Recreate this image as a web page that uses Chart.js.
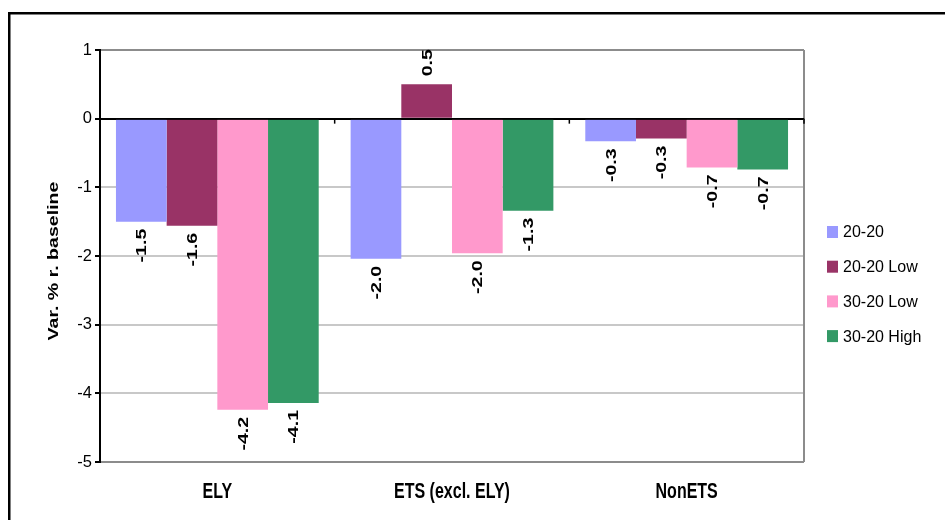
<!DOCTYPE html>
<html><head><meta charset="utf-8">
<script src="https://cdn.jsdelivr.net/npm/chart.js@4"></script>
<style>html,body{margin:0;padding:0;background:#fff;}#wrap{width:945px;height:520px;position:relative;}</style>
</head><body><div id="wrap"><canvas id="c" width="945" height="520"></canvas></div>
<script>
const categories = ['ELY', 'ETS (excl. ELY)', 'NonETS'];
const seriesNames = ['20-20', '20-20 Low', '30-20 Low', '30-20 High'];
const s2020 = [-1.50, -2.04, -0.33];
const s2020Low = [-1.56, 0.50, -0.29];
const s3020Low = [-4.24, -1.96, -0.71];
const s3020High = [-4.14, -1.34, -0.74];
const yTicks = [1, 0, -1, -2, -3, -4, -5];
const colors = ['#9999FF', '#993366', '#FF99CC', '#339966'];
const yTitle = 'Var. % r. baseline';

const FONT = '"Liberation Sans", Arial, sans-serif';
const seriesData = [s2020, s2020Low, s3020Low, s3020High];

function line(ctx, x1, y1, x2, y2) { ctx.beginPath(); ctx.moveTo(x1, y1); ctx.lineTo(x2, y2); ctx.stroke(); }

const decor = {
  id: 'decor',
  beforeDraw(chart) {
    const ctx = chart.ctx;
    ctx.save(); ctx.fillStyle = '#fff'; ctx.fillRect(0, 0, chart.width, chart.height); ctx.restore();
  },
  afterDatasetsDraw(chart) {
    const { ctx, chartArea: a, scales: { x, y } } = chart;
    ctx.save();
    ctx.strokeStyle = '#8c8c8c'; ctx.lineWidth = 2;
    line(ctx, a.right, a.top, a.right, a.bottom);
    const y0 = y.getPixelForValue(0);
    ctx.strokeStyle = '#000'; ctx.lineWidth = 1.5;
    line(ctx, a.left, y0, a.right, y0);
    for (let i = 0; i <= categories.length; i++) {
      const px = x.getPixelForValue(i - 0.5);
      line(ctx, px, y0, px, y0 + 5);
    }
    chart.data.datasets.forEach((ds, di) => {
      const meta = chart.getDatasetMeta(di);
      meta.data.forEach((bar, i) => {
        const v = ds.data[i];
        ctx.save();
        ctx.translate(bar.x, v < 0 ? bar.y + 7 : bar.y - 8);
        ctx.rotate(-Math.PI / 2);
        ctx.scale(1.35, 1);
        ctx.font = 'bold 14.5px ' + FONT;
        ctx.textAlign = v < 0 ? 'right' : 'left';
        ctx.textBaseline = 'alphabetic';
        ctx.fillStyle = '#000';
        ctx.fillText(v.toFixed(1), 0, 5);
        ctx.restore();
      });
    });
    ctx.restore();
  },
  afterDraw(chart) {
    const { ctx, chartArea: a, scales: { x } } = chart;
    ctx.save();
    ctx.fillStyle = '#000';
    categories.forEach((c, i) => {
      ctx.save();
      ctx.translate(x.getPixelForValue(i), 498);
      ctx.scale(1, 1.35);
      ctx.font = 'bold 16px ' + FONT;
      ctx.textAlign = 'center';
      ctx.textBaseline = 'alphabetic';
      ctx.fillText(c, 0, 0);
      ctx.restore();
    });
    ctx.save();
    ctx.translate(58, (a.top + a.bottom) / 2 + 5);
    ctx.rotate(-Math.PI / 2);
    ctx.scale(1.35, 1);
    ctx.font = 'bold 14.5px ' + FONT;
    ctx.textAlign = 'center';
    ctx.textBaseline = 'alphabetic';
    ctx.fillText(yTitle, 0, 0);
    ctx.restore();
    chart.data.datasets.forEach((ds, i) => {
      const cy = 232 + i * 34.7;
      ctx.fillStyle = ds.backgroundColor;
      ctx.fillRect(827, cy - 6, 11, 12);
      ctx.fillStyle = '#000';
      ctx.font = '16px ' + FONT;
      ctx.textAlign = 'left';
      ctx.textBaseline = 'middle';
      ctx.fillText(ds.label, 843, cy + 1);
    });
    ctx.fillStyle = '#000';
    ctx.fillRect(8, 12, chart.width - 8, 2.5);
    ctx.fillRect(8, 12, 2.5, chart.height - 12);
    ctx.restore();
  }
};

new Chart(document.getElementById('c'), {
  type: 'bar',
  data: {
    labels: categories,
    datasets: seriesNames.map((n, i) => ({
      label: n,
      data: seriesData[i],
      backgroundColor: colors[i],
      borderWidth: 0,
      categoryPercentage: 0.864,
      barPercentage: 1
    }))
  },
  options: {
    responsive: false,
    devicePixelRatio: 1,
    animation: false,
    layout: { padding: { top: 50, right: 141, left: 0, bottom: 0 } },
    plugins: { legend: { display: false }, tooltip: { enabled: false } },
    scales: {
      x: {
        ticks: { display: false },
        grid: { display: false },
        border: { display: false },
        afterFit: s => { s.height = 58; }
      },
      y: {
        min: -5, max: 1,
        afterBuildTicks: s => { s.ticks = yTicks.map(v => ({ value: v })); },
        ticks: { color: '#000', font: { family: FONT, size: 16.5 }, padding: 3 },
        grid: {
          color: c => (c.tick.value === 1 || c.tick.value === -5) ? '#8c8c8c' : (c.tick.value === 0 ? '#000' : '#c8c8c8'),
          lineWidth: 2,
          tickColor: '#000',
          tickLength: 5
        },
        border: { color: '#000', width: 2 },
        afterFit: s => { s.width = 100; }
      }
    }
  },
  plugins: [decor]
});
</script>
</body></html>
